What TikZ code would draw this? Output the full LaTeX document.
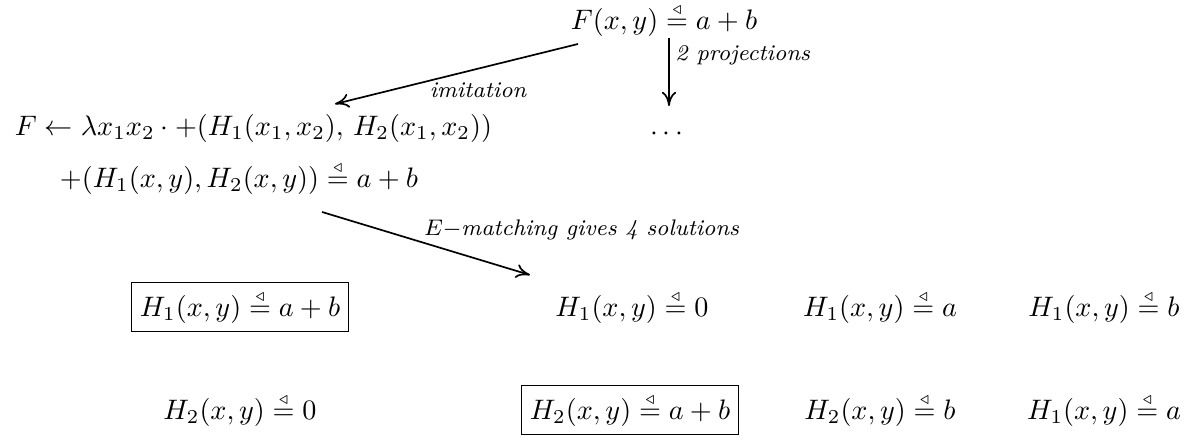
\documentclass[tikz,border=0pt]{standalone}
\usepackage{amsmath,amssymb}
\usetikzlibrary{arrows,positioning}
\usetikzlibrary{arrows.meta}
\newcommand{\tdeq}{\mathrel{\stackrel{\scriptscriptstyle\triangleleft}{=}}}

\begin{document}
\begin{tikzpicture}[x=0.355pt,y=0.355pt,yscale=-1,xscale=1,
	lbl/.style={font=\footnotesize\itshape,inner sep=1pt},
	sol/.style={inner sep=3pt},
	picked/.style={draw,line width=0.6pt,inner sep=3pt},
	arr/.style={-{To[length=5pt,width=5pt]},line width=0.6pt}]
	\useasboundingbox (0,0) rectangle (1194,440);
	
	% Text Node
	\node (goal) at (664,20) {$F(x,y)\tdeq a+b$};
	% Text Node
	\node [anchor=west] (flex) at (5,128) {$F\leftarrow\lambda x_1x_2\cdot{+}(H_1(x_1,x_2),\,H_2(x_1,x_2))$};
	% Text Node
	\node (dots) at (669,134) {$\cdots$};
	% Text Node
	\node [anchor=west] (pair) at (50,178) {$+(H_1(x,y),H_2(x,y))\tdeq a+b$};
	
	% solutions, first row
	\node [picked] (s11) at (240,307) {$H_1(x,y)\tdeq a+b$};
	\node [sol] (s12) at (632,307) {$H_1(x,y)\tdeq 0$};
	\node [sol] (s13) at (880,307) {$H_1(x,y)\tdeq a$};
	\node [sol] (s14) at (1104,307) {$H_1(x,y)\tdeq b$};
	% solutions, second row
	\node [sol] (s21) at (240,410) {$H_2(x,y)\tdeq 0$};
	\node [picked] (s22) at (630,410) {$H_2(x,y)\tdeq a+b$};
	\node [sol] (s23) at (880,410) {$H_2(x,y)\tdeq b$};
	\node [sol] (s24) at (1104,410) {$H_1(x,y)\tdeq a$};
	
	% arrow ends
	\coordinate (imfrom) at (578,44);
	\coordinate (imto) at (335,104);
	\coordinate (prfrom) at (669,38);
	\coordinate (prto) at (669,106);
	\coordinate (emfrom) at (322,212);
	\coordinate (emto) at (530,275);
	
	%Straight Lines
	\draw [arr] (imfrom) -- (imto) node [lbl,pos=0.4,below,xshift=-1pt,yshift=-4pt] (imlbl) {imitation};
	%Straight Lines
	\draw [arr] (prfrom) -- (prto) node [lbl,pos=0.25,right,xshift=1pt] (prlbl) {2 projections};
	%Straight Lines
	\draw [arr] (emfrom) -- (emto) node [lbl,pos=0.5,above right,xshift=-2pt] (emlbl) {$E{-}$matching gives 4 solutions};
	
\end{tikzpicture}
\end{document}
